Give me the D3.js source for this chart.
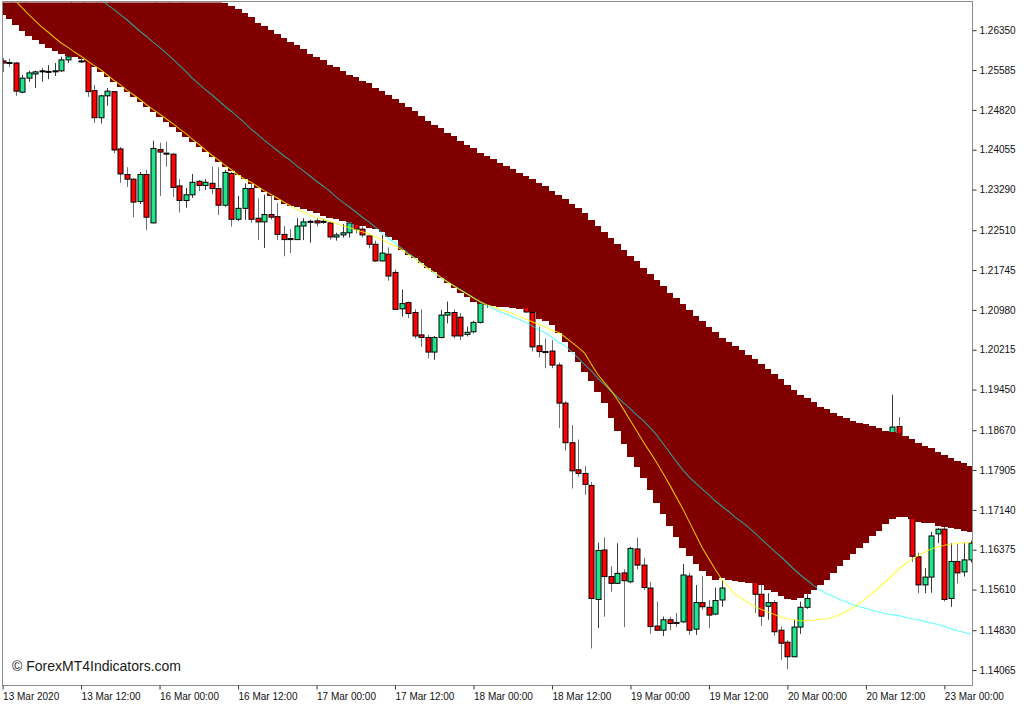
<!DOCTYPE html>
<html><head><meta charset="utf-8">
<script src="https://cdn.jsdelivr.net/npm/d3@7"></script>
<style>
body{margin:0;background:#fff;}
svg{display:block;}
</style>
</head><body>
<svg id="chart" width="1024" height="705"></svg>
<script>
// ---- DATA (EURUSD-style H1 candles, prices) ----
const opens=[
1.2576,1.2573,1.2572,1.2516,1.2543,1.2551,1.2556,1.2555,1.2556,1.2557,
1.2578,1.2587,1.2576,1.2574,1.2519,1.2467,1.2509,1.2517,1.2407,1.2358,
1.2349,1.2306,1.2358,1.2265,1.2406,1.2399,1.2397,1.2336,1.2308,1.2319,
1.2345,1.2337,1.2341,1.2331,1.2299,1.2360,1.2272,1.2293,1.2331,1.2274,
1.2267,1.2281,1.2277,1.2243,1.2235,1.2233,1.2259,1.2267,1.2269,1.2268,
1.2265,1.2238,1.2242,1.2246,1.2263,1.2253,1.2240,1.2224,1.2192,1.2205,
1.2170,1.2100,1.2112,1.2093,1.2050,1.2045,1.2017,1.2045,1.2088,1.2093,
1.2084,1.2051,1.2056,1.2074,1.2117,1.2123,1.2130,1.2125,1.2134,1.2121,
1.2109,1.2093,1.2029,1.2018,1.2019,1.1992,1.1919,1.1843,1.1791,1.1784,
1.1761,1.1542,1.1637,1.1586,1.1573,1.1593,1.1576,1.1639,1.1608,1.1564,
1.1491,1.1483,1.1503,1.1498,1.1499,1.1587,1.1485,1.1536,1.1527,1.1514,
1.1541,1.1583,1.1595,1.1589,1.1599,1.1583,1.1552,1.1529,1.1536,1.1483,
1.1460,1.1432,1.1489,1.1527,1.1570,1.1589,1.1608,1.1622,1.1641,1.1656,
1.1679,1.1695,1.1723,1.1743,1.1771,1.1800,1.1839,1.1874,1.1829,1.1752,
1.1624,1.1570,1.1585,1.1668,1.1677,1.1544,1.1615,1.1595,1.1618];
const highs=[
1.2582,1.2580,1.2574,1.2549,1.2557,1.2557,1.2562,1.2568,1.2572,1.2584,
1.2586,1.2597,1.2580,1.2576,1.2530,1.2511,1.2524,1.2518,1.2411,1.2372,
1.2351,1.2363,1.2367,1.2423,1.2419,1.2421,1.2399,1.2349,1.2332,1.2359,
1.2347,1.2349,1.2373,1.2372,1.2367,1.2363,1.2317,1.2341,1.2340,1.2312,
1.2319,1.2319,1.2303,1.2259,1.2253,1.2274,1.2274,1.2271,1.2274,1.2273,
1.2267,1.2246,1.2263,1.2266,1.2266,1.2258,1.2242,1.2231,1.2242,1.2218,
1.2176,1.2137,1.2114,1.2099,1.2099,1.2050,1.2048,1.2098,1.2114,1.2099,
1.2092,1.2066,1.2077,1.2114,1.2136,1.2140,1.2142,1.2144,1.2138,1.2129,
1.2119,1.2105,1.2066,1.2043,1.2040,1.1997,1.1923,1.1877,1.1849,1.1798,
1.1768,1.1651,1.1661,1.1606,1.1650,1.1600,1.1643,1.1661,1.1622,1.1576,
1.1538,1.1509,1.1509,1.1516,1.1610,1.1593,1.1570,1.1587,1.1541,1.1565,
1.1579,1.1602,1.1606,1.1608,1.1606,1.1589,1.1572,1.1554,1.1541,1.1490,
1.1464,1.1503,1.1538,1.1552,1.1599,1.1618,1.1633,1.1652,1.1675,1.1695,
1.1714,1.1737,1.1762,1.1791,1.1819,1.1856,1.1935,1.1892,1.1848,1.1771,
1.1632,1.1602,1.1672,1.1679,1.1691,1.1650,1.1649,1.1650,1.1655];
const lows=[
1.2555,1.2564,1.2509,1.2514,1.2536,1.2524,1.2536,1.2541,1.2547,1.2555,
1.2572,1.2585,1.2572,1.2507,1.2457,1.2456,1.2490,1.2399,1.2342,1.2334,
1.2276,1.2301,1.2251,1.2264,1.2317,1.2373,1.2315,1.2285,1.2294,1.2313,
1.2326,1.2328,1.2320,1.2280,1.2296,1.2258,1.2269,1.2271,1.2265,1.2232,
1.2217,1.2271,1.2232,1.2201,1.2207,1.2232,1.2232,1.2227,1.2258,1.2263,
1.2233,1.2231,1.2237,1.2237,1.2245,1.2237,1.2216,1.2190,1.2191,1.2154,
1.2098,1.2085,1.2082,1.2043,1.2027,1.2005,1.2002,1.2043,1.2072,1.2043,
1.2040,1.2047,1.2053,1.2072,1.2102,1.2113,1.2117,1.2115,1.2111,1.2106,
1.2092,1.2018,1.2007,1.1986,1.1986,1.1871,1.1828,1.1755,1.1778,1.1743,
1.1448,1.1487,1.1509,1.1557,1.1572,1.1489,1.1573,1.1600,1.1560,1.1476,
1.1482,1.1472,1.1483,1.1489,1.1497,1.1474,1.1474,1.1522,1.1487,1.1512,
1.1528,1.1581,1.1581,1.1579,1.1577,1.1516,1.1491,1.1503,1.1472,1.1426,
1.1408,1.1431,1.1476,1.1524,1.1564,1.1576,1.1589,1.1602,1.1618,1.1637,
1.1647,1.1656,1.1666,1.1675,1.1685,1.1695,1.1810,1.1791,1.1714,1.1614,
1.1554,1.1554,1.1555,1.1650,1.1538,1.1528,1.1573,1.1586,1.1613];
const closes=[
1.2572,1.2572,1.2518,1.2543,1.2553,1.2555,1.2557,1.2556,1.2557,1.2578,
1.2584,1.2591,1.2575,1.2517,1.2467,1.2509,1.2518,1.2405,1.2359,1.2349,
1.2305,1.2358,1.2276,1.2408,1.2401,1.2398,1.2333,1.2308,1.2319,1.2343,
1.2337,1.2343,1.2331,1.2299,1.2362,1.2272,1.2293,1.2331,1.2272,1.2267,
1.2281,1.2276,1.2243,1.2233,1.2233,1.2259,1.2267,1.2268,1.2265,1.2267,
1.2238,1.2242,1.2246,1.2265,1.2253,1.2242,1.2224,1.2192,1.2207,1.2163,
1.2099,1.2110,1.2091,1.2048,1.2045,1.2017,1.2045,1.2088,1.2093,1.2048,
1.2048,1.2055,1.2074,1.2112,1.2125,1.2130,1.2125,1.2134,1.2121,1.2111,
1.2094,1.2027,1.2018,1.2017,1.1992,1.1919,1.1843,1.1789,1.1784,1.1763,
1.1544,1.1636,1.1586,1.1573,1.1592,1.1578,1.1640,1.1608,1.1565,1.1490,
1.1483,1.1503,1.1496,1.1497,1.1589,1.1483,1.1536,1.1528,1.1512,1.1540,
1.1564,1.1595,1.1589,1.1599,1.1587,1.1552,1.1510,1.1536,1.1480,1.1458,
1.1432,1.1489,1.1527,1.1544,1.1589,1.1608,1.1622,1.1641,1.1656,1.1679,
1.1695,1.1723,1.1743,1.1771,1.1800,1.1848,1.1873,1.1829,1.1752,1.1625,
1.1570,1.1585,1.1664,1.1677,1.1542,1.1615,1.1593,1.1618,1.1650];
// cloud (histogram band) upper and lower edge per bar
const cloudTop=[
1.2920,1.2912,1.2906,1.2898,1.2893,1.2885,1.2879,1.2872,1.2866,1.2858,
1.2852,1.2845,1.2839,1.2831,1.2826,1.2818,1.2812,1.2804,1.2799,1.2791,
1.2785,1.2778,1.2772,1.2764,1.2758,1.2751,1.2745,1.2737,1.2731,1.2724,
1.2716,1.2708,1.2701,1.2695,1.2687,1.2682,1.2675,1.2669,1.2660,1.2649,
1.2643,1.2635,1.2628,1.2620,1.2613,1.2607,1.2598,1.2589,1.2583,1.2577,
1.2568,1.2564,1.2557,1.2549,1.2545,1.2538,1.2533,1.2525,1.2519,1.2511,
1.2502,1.2496,1.2487,1.2479,1.2470,1.2461,1.2453,1.2447,1.2438,1.2431,
1.2423,1.2415,1.2408,1.2400,1.2394,1.2387,1.2381,1.2374,1.2368,1.2361,
1.2355,1.2349,1.2341,1.2335,1.2327,1.2319,1.2310,1.2301,1.2293,1.2284,
1.2271,1.2259,1.2248,1.2236,1.2225,1.2213,1.2202,1.2191,1.2178,1.2167,
1.2155,1.2143,1.2131,1.2120,1.2109,1.2098,1.2087,1.2076,1.2066,1.2055,
1.2045,1.2037,1.2029,1.2021,1.2011,1.2003,1.1994,1.1984,1.1975,1.1965,
1.1954,1.1944,1.1935,1.1928,1.1921,1.1912,1.1907,1.1901,1.1894,1.1890,
1.1885,1.1881,1.1879,1.1875,1.1871,1.1866,1.1864,1.1861,1.1856,1.1850,
1.1843,1.1837,1.1832,1.1826,1.1819,1.1813,1.1808,1.1804,1.1798];
const cloudBottom=[
1.2664,1.2657,1.2645,1.2634,1.2624,1.2616,1.2609,1.2601,1.2595,1.2590,
1.2586,1.2583,1.2580,1.2574,1.2564,1.2555,1.2545,1.2536,1.2526,1.2516,
1.2507,1.2497,1.2488,1.2478,1.2468,1.2459,1.2449,1.2440,1.2430,1.2420,
1.2411,1.2401,1.2392,1.2382,1.2372,1.2365,1.2357,1.2349,1.2340,1.2332,
1.2324,1.2317,1.2309,1.2301,1.2298,1.2295,1.2292,1.2288,1.2284,1.2279,
1.2275,1.2272,1.2269,1.2266,1.2263,1.2259,1.2256,1.2253,1.2248,1.2238,
1.2232,1.2213,1.2203,1.2197,1.2188,1.2178,1.2171,1.2159,1.2149,1.2140,
1.2130,1.2123,1.2114,1.2109,1.2107,1.2106,1.2104,1.2103,1.2102,1.2100,
1.2102,1.2094,1.2080,1.2076,1.2069,1.2054,1.2036,1.2017,1.1998,1.1979,
1.1962,1.1940,1.1919,1.1890,1.1866,1.1841,1.1816,1.1796,1.1775,1.1752,
1.1727,1.1706,1.1683,1.1662,1.1641,1.1626,1.1610,1.1597,1.1587,1.1579,
1.1583,1.1579,1.1577,1.1576,1.1574,1.1574,1.1570,1.1560,1.1556,1.1549,
1.1543,1.1541,1.1545,1.1552,1.1560,1.1570,1.1579,1.1593,1.1606,1.1618,
1.1629,1.1641,1.1651,1.1663,1.1674,1.1687,1.1696,1.1701,1.1700,1.1697,
1.1691,1.1689,1.1688,1.1683,1.1681,1.1679,1.1677,1.1674,1.1672];
// yellow moving average
const yellowMA=[
null,1.2705,1.2691,1.2678,1.2665,1.2653,1.2641,1.2631,1.2620,1.2610,
1.2602,1.2593,1.2585,1.2576,1.2567,1.2559,1.2549,1.2539,1.2530,1.2520,
1.2511,1.2502,1.2492,1.2483,1.2474,1.2465,1.2456,1.2446,1.2437,1.2426,
1.2416,1.2405,1.2395,1.2386,1.2376,1.2367,1.2357,1.2349,1.2343,1.2335,
1.2327,1.2320,1.2313,1.2305,1.2298,1.2291,1.2286,1.2280,1.2275,1.2272,
1.2268,1.2264,1.2260,1.2256,1.2252,1.2248,1.2244,1.2238,1.2233,1.2226,
1.2221,1.2214,1.2205,1.2197,1.2187,1.2178,1.2170,1.2161,1.2152,1.2144,
1.2136,1.2129,1.2121,1.2114,1.2108,1.2104,1.2099,1.2095,1.2091,1.2086,
1.2080,1.2075,1.2070,1.2065,1.2059,1.2055,1.2046,1.2036,1.2026,1.2015,
1.1994,1.1974,1.1959,1.1944,1.1926,1.1906,1.1885,1.1865,1.1844,1.1825,
1.1805,1.1784,1.1762,1.1739,1.1716,1.1691,1.1666,1.1641,1.1620,1.1599,
1.1580,1.1566,1.1552,1.1544,1.1536,1.1529,1.1523,1.1518,1.1513,1.1508,
1.1505,1.1503,1.1501,1.1502,1.1502,1.1504,1.1505,1.1508,1.1513,1.1519,
1.1526,1.1534,1.1544,1.1554,1.1565,1.1576,1.1588,1.1600,1.1610,1.1619,
1.1626,1.1633,1.1639,1.1643,1.1646,1.1648,1.1650,1.1651,1.1651];
// aqua moving average
const aquaMA=[
null,null,null,null,null,null,null,null,null,null,
null,null,null,null,1.2706,1.2695,1.2684,1.2675,1.2665,1.2655,
1.2644,1.2633,1.2623,1.2612,1.2602,1.2591,1.2580,1.2568,1.2556,1.2543,
1.2532,1.2521,1.2511,1.2500,1.2489,1.2479,1.2468,1.2457,1.2445,1.2435,
1.2424,1.2414,1.2404,1.2394,1.2385,1.2374,1.2365,1.2355,1.2345,1.2336,
1.2326,1.2315,1.2305,1.2296,1.2286,1.2276,1.2267,1.2257,1.2246,1.2236,
1.2226,1.2217,1.2207,1.2198,1.2188,1.2178,1.2169,1.2160,1.2152,1.2145,
1.2137,1.2129,1.2122,1.2113,1.2106,1.2101,1.2095,1.2090,1.2085,1.2080,
1.2074,1.2067,1.2060,1.2054,1.2045,1.2036,1.2029,1.2018,1.2006,1.1993,
1.1981,1.1967,1.1955,1.1942,1.1931,1.1919,1.1908,1.1896,1.1885,1.1872,
1.1858,1.1841,1.1824,1.1807,1.1791,1.1777,1.1765,1.1754,1.1743,1.1731,
1.1721,1.1711,1.1700,1.1691,1.1681,1.1670,1.1658,1.1647,1.1635,1.1624,
1.1612,1.1600,1.1589,1.1579,1.1569,1.1560,1.1553,1.1548,1.1542,1.1537,
1.1532,1.1528,1.1525,1.1521,1.1518,1.1515,1.1513,1.1511,1.1508,1.1505,
1.1503,1.1500,1.1497,1.1494,1.1490,1.1486,1.1482,1.1479,1.1475];
const priceTicks=[1.26350,1.25585,1.24820,1.24055,1.23290,1.22510,1.21745,1.20980,1.20215,1.19450,1.18670,1.17905,1.17140,1.16375,1.15610,1.14830,1.14065];
const timeLabels=["13 Mar 2020","13 Mar 12:00","16 Mar 00:00","16 Mar 12:00","17 Mar 00:00","17 Mar 12:00","18 Mar 00:00","18 Mar 12:00","19 Mar 00:00","19 Mar 12:00","20 Mar 00:00","20 Mar 12:00","23 Mar 00:00"];
const timeLabelBars=[0,12,24,36,48,60,72,84,96,108,120,132,144];

// ---- DRAW ----
const svg=d3.select("#chart");
svg.append("rect").attr("width",1024).attr("height",705).attr("fill","#fff");
const P={l:2.5,t:2.5,r:972.5,b:685.5};
const n=opens.length;
const x=d3.scaleLinear().domain([0,n-1]).range([2.6,2.6+6.54*(n-1)]);
const y=d3.scaleLinear().domain([1.13778,1.268916]).range([685,2]);

svg.append("defs").append("clipPath").attr("id","clip")
  .append("rect").attr("x",P.l).attr("y",P.t).attr("width",P.r-P.l).attr("height",P.b-P.t);
const g=svg.append("g").attr("clip-path","url(#clip)");

const idx=d3.range(n);
// wicks
g.append("g").selectAll("line").data(idx).join("line")
  .attr("x1",i=>Math.round(x(i))+0.5).attr("x2",i=>Math.round(x(i))+0.5)
  .attr("y1",i=>y(highs[i])).attr("y2",i=>y(lows[i]))
  .attr("stroke",i=>closes[i]>=opens[i]?"#3a3a3a":"#6e6e6e").attr("stroke-width",1);
// bodies
g.append("g").selectAll("rect").data(idx).join("rect")
  .attr("x",i=>Math.round(x(i))-2)
  .attr("y",i=>y(Math.max(opens[i],closes[i])))
  .attr("width",5)
  .attr("height",i=>Math.max(1,Math.abs(y(opens[i])-y(closes[i]))))
  .attr("fill",i=>closes[i]>=opens[i]?"#1fe68c":"#ff0000")
  .attr("stroke","#000").attr("stroke-width",1);

// cloud histogram
g.append("g").attr("shape-rendering","crispEdges").selectAll("rect").data(idx).join("rect")
  .attr("x",i=>x(i)-3.3).attr("width",6.8)
  .attr("y",i=>y(cloudTop[i]))
  .attr("height",i=>y(cloudBottom[i])-y(cloudTop[i]))
  .attr("fill","#800000");

// moving averages
const line=arr=>d3.line().defined(d=>d!=null).x((d,i)=>x(i)).y(d=>y(d))(arr);
g.append("path").attr("d",line(aquaMA)).attr("fill","none")
  .attr("stroke","#00ffff").attr("stroke-opacity",0.6).attr("stroke-width",1.1);
g.append("path").attr("d",line(yellowMA)).attr("fill","none")
  .attr("stroke","#ffff00").attr("stroke-opacity",0.75).attr("stroke-width",1.1);

// frame
svg.append("rect").attr("x",P.l).attr("y",P.t-1).attr("width",P.r-P.l).attr("height",P.b-P.t+1)
  .attr("fill","none").attr("stroke","#8c8c8c").attr("stroke-width",1);

// right price axis
const ya=svg.append("g").attr("transform",`translate(${P.r},0)`)
  .call(d3.axisRight(y).tickValues(priceTicks).tickSize(4).tickFormat(d=>d.toFixed(5)));
ya.select(".domain").remove();
ya.selectAll(".tick line").attr("stroke","#333");
ya.selectAll("text").attr("x",7).attr("fill","#111")
  .style("font-family","'Liberation Sans',Arial,sans-serif").style("font-size","10px");

// bottom time axis
const xa=svg.append("g").attr("transform",`translate(0,${P.b})`)
  .call(d3.axisBottom(x).tickValues(timeLabelBars).tickSize(4).tickFormat((d,i)=>timeLabels[i]));
xa.select(".domain").remove();
xa.selectAll(".tick line").attr("stroke","#333");
xa.selectAll("text").attr("text-anchor","start").attr("x",0).attr("y",7).attr("fill","#111")
  .style("font-family","'Liberation Sans',Arial,sans-serif").style("font-size","10px");

// watermark
svg.append("text").attr("x",12).attr("y",671).text("© ForexMT4Indicators.com")
  .attr("fill","#1a1a1a").style("font-family","'Liberation Sans',Arial,sans-serif").style("font-size","14px");
</script>
</body></html>
